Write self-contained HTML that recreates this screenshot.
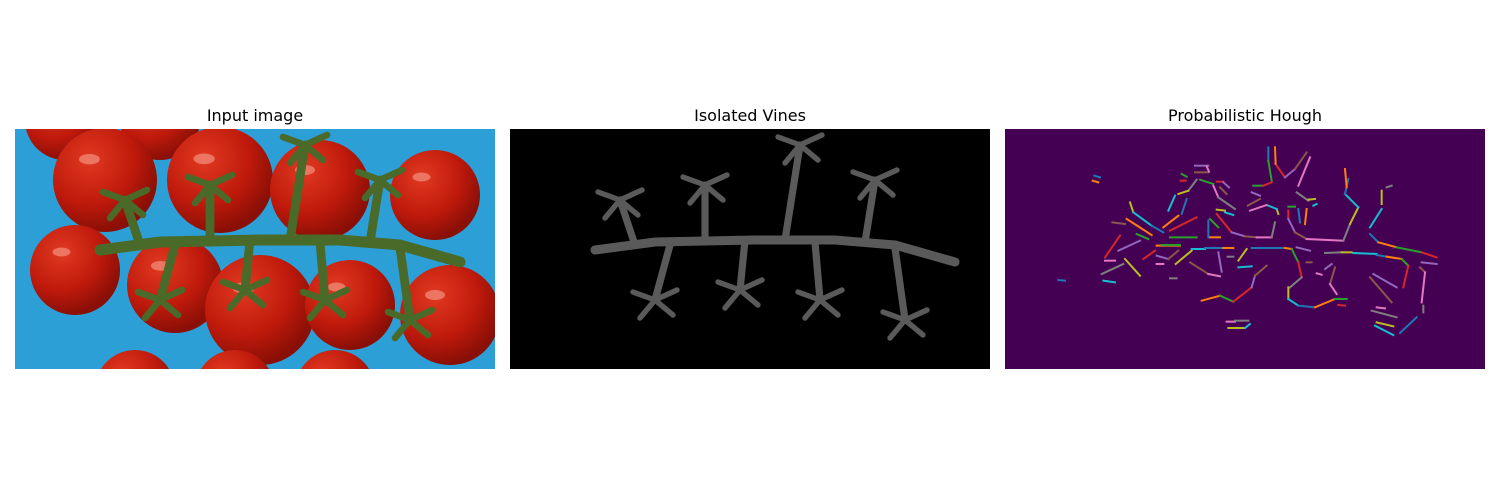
<!DOCTYPE html>
<html><head><meta charset="utf-8"><style>
body{margin:0;background:#fff;width:1500px;height:500px;overflow:hidden;font-family:"DejaVu Sans","Liberation Sans",sans-serif}
svg{position:absolute;left:0;top:0}
</style></head><body>
<svg width="1500" height="500">
<defs>
<clipPath id="c1"><rect x="15" y="129" width="480" height="240"/></clipPath>
<clipPath id="c2"><rect x="510" y="129" width="480" height="240"/></clipPath>
<clipPath id="c3"><rect x="1005" y="129" width="480" height="240"/></clipPath>
<radialGradient id="tg" cx="0.35" cy="0.3" r="0.7"><stop offset="0" stop-color="#e03a22"/><stop offset="0.6" stop-color="#c01a0c"/><stop offset="1" stop-color="#8a0f06"/></radialGradient>
</defs>
<text x="255" y="121" text-anchor="middle" font-size="16">Input image</text>
<text x="750" y="121" text-anchor="middle" font-size="16">Isolated Vines</text>
<text x="1245" y="121" text-anchor="middle" font-size="16">Probabilistic Hough</text>
<g clip-path="url(#c1)" id="p1">
<rect x="15" y="129" width="480" height="240" fill="#2c9fd6"/>
</g>
<g clip-path="url(#c2)" id="p2">
<rect x="510" y="129" width="480" height="240" fill="#000"/>
</g>
<g clip-path="url(#c3)" id="p3">
<rect x="1005" y="129" width="480" height="240" fill="#440154"/>
</g>
</svg>
<script>
const NS="http://www.w3.org/2000/svg";
const tomatoX=[50,145,90,205,305,420,60,160,245,335,435,120,220,320];
const tomatoY=[120,120,180,180,190,195,270,285,310,305,315,390,390,390];
const tomatoR=[40,40,52,53,50,45,45,48,55,45,50,40,40,40];
const vineMain=[[100,250],[160,242],[260,240],[340,240],[400,245],[460,262]];
const stems=[[[140,245],[125,200]],[[210,242],[210,185]],[[290,240],[305,145]],[[370,242],[380,180]],[[175,245],[160,300]],[[250,240],[245,290]],[[320,242],[325,300]],[[400,248],[410,320]]];
const segs=[[268,140,285,145],[263,155,280,160],[530,135,545,143],[527,155,542,155],[570,110,610,110],[570,130,610,130],[605,112,612,128],
[575,152,550,185],[550,185,520,195],[510,200,490,245],[545,210,530,255],[520,260,475,295],[585,152,625,165],[635,158,655,158],[655,160,672,175],[645,175,665,195],[625,170,640,205],[640,205,690,240],[635,242,660,245],[660,250,685,258],[610,275,610,325],[615,325,645,325],[615,270,640,295],[635,255,680,310],[680,310,720,322],[720,322,755,325],[755,325,800,325],[800,325,810,280],[815,240,820,255],[790,230,815,240],
[790,55,790,95],[810,55,812,105],[790,95,800,155],[815,110,840,145],[840,145,870,120],[870,120,905,70],[915,85,880,170],[875,190,910,215],[910,212,930,210],[925,230,935,225],[880,240,885,280],[905,240,900,285],[850,233,870,233],[850,245,850,270],[850,270,870,310],[870,310,905,330],[905,330,1015,335],[1015,335,1035,285],[1035,285,1060,235],[1060,235,1020,195],[1020,195,1030,150],[1020,120,1025,175],
[745,170,775,170],[775,170,800,160],[740,190,765,200],[728,230,765,210],[735,245,785,228],
[1145,175,1160,170],[1130,185,1130,225],[1130,240,1095,295],[1095,315,1120,340],[1120,340,1175,355],[1175,355,1250,370],[1250,370,1295,385],[1250,400,1295,405],[1245,415,1260,430],[1260,430,1250,520],[1255,530,1255,550],
[375,220,385,250],[385,250,440,290],[440,290,475,310],[365,270,440,318],[395,315,430,330],[345,320,300,385],[340,365,405,335],[322,280,360,285],[300,395,330,395],[290,435,355,405],[360,390,405,440],[295,455,330,460],[160,453,180,455],
[455,350,525,350],[470,348,525,348],[415,390,450,365],[455,380,490,390],[490,390,520,365],[455,405,475,405],[495,448,515,448],[512,405,560,365],[560,360,600,360],[600,357,650,357],[655,357,685,357],[495,325,575,325],[495,305,575,265],
[640,370,650,428],[555,400,610,435],[610,435,645,442],[668,383,685,383],[700,395,725,360],[700,415,740,412],
[740,357,840,357],[840,357,860,360],[860,360,880,400],[880,400,890,445],[875,355,915,365],[905,400,920,400],[935,433,950,437],[890,445,855,475],[850,475,850,510],[850,510,880,530],[880,530,930,535],[930,535,990,510],[990,510,1025,510],[1000,528,1020,530],
[960,420,980,405],[990,415,975,465],[975,465,995,495],
[960,372,1010,370],[1010,370,1040,370],[1045,372,1115,375],[1115,378,1145,383],[1145,383,1190,390],[1190,390,1210,410],[1210,410,1195,475],[1175,475,1105,435],[1095,445,1160,520],[1115,535,1140,538],[1100,545,1175,565],[1115,580,1165,592],[1110,590,1165,618],[1185,612,1235,565],
[590,515,645,500],[645,500,685,518],[685,518,740,475],[740,475,750,440],[750,440,785,410],
[665,578,690,578],[690,575,730,575],[670,597,720,597],[720,597,735,585]];
const palette=["#1f77b4","#ff7f0e","#2ca02c","#d62728","#9467bd","#8c564b","#e377c2","#7f7f7f","#bcbd22","#17becf"];
const hx=v=>1005+v/3, hy=v=>129+v/3;
function mk(tag,attrs,parent){const e=document.createElementNS(NS,tag);for(const k in attrs)e.setAttribute(k,attrs[k]);parent.appendChild(e);return e;}
const p1=document.getElementById('p1'),p2=document.getElementById('p2'),p3=document.getElementById('p3');
tomatoX.forEach((x,i)=>{
  const c=mk('circle',{cx:15+x,cy:tomatoY[i],r:tomatoR[i],fill:'url(#tg)'},p1);
  
  
  const h=mk('ellipse',{cx:15+x-tomatoR[i]*0.3,cy:tomatoY[i]-tomatoR[i]*0.4,rx:tomatoR[i]*0.2,ry:tomatoR[i]*0.1,fill:'#f7a090',opacity:0.6},p1);
  
  
});
function vine(parent,dx,col,w){
  const d='M'+vineMain.map(p=>(p[0]+dx)+','+p[1]).join(' L');
  const m=mk('path',{d:d,stroke:col,'stroke-width':w,fill:'none','stroke-linecap':'round'},parent);
  
  
  stems.forEach(s=>{
    const l=mk('path',{d:`M${s[0][0]+dx},${s[0][1]} L${s[1][0]+dx},${s[1][1]}`,stroke:col,'stroke-width':w*0.8,fill:'none','stroke-linecap':'round'},parent);
    
    
    [[-22,-8],[22,-10],[-15,18],[18,15]].forEach(o=>{
      const b=mk('path',{d:`M${s[1][0]+dx},${s[1][1]} l${o[0]},${o[1]}`,stroke:col,'stroke-width':w*0.6,fill:'none','stroke-linecap':'round'},parent);
      
      
    });
  });
}
vine(p1,0,'#4a6a2a',11);
vine(p2,495,'#5a5a5a',9);
segs.forEach((s,i)=>{
  const l=mk('line',{x1:hx(s[0]),y1:hy(s[1]),x2:hx(s[2]),y2:hy(s[3]),stroke:palette[i%10],'stroke-width':2,'stroke-linecap':'square'},p3);
  
  
});
</script>
</body></html>
